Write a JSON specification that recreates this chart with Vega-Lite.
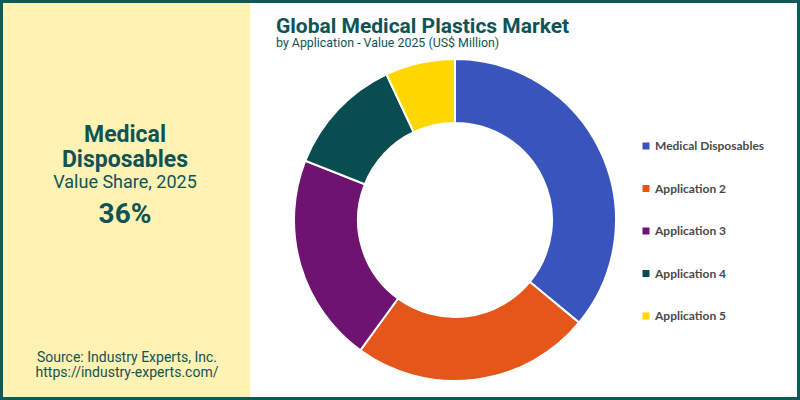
{
  "$schema": "https://vega.github.io/schema/vega-lite/v6.json",
  "background": "#0E5A5A",
  "padding": 3,
  "spacing": 0,
  "config": {"view": {"stroke": null}, "font": "Roboto", "concat": {"spacing": 0}},
  "hconcat": [
    {
      "width": 247,
      "height": 394,
      "view": {"fill": "#FFF2B3", "stroke": null},
      "data": {"values": [{}]},
      "layer": [
        {"mark": {"type": "text", "text": "Medical", "x": 122, "y": 139, "align": "center", "baseline": "alphabetic", "fontSize": 23, "fontWeight": "bold", "color": "#0E5457"}},
        {"mark": {"type": "text", "text": "Disposables", "x": 122, "y": 164, "align": "center", "baseline": "alphabetic", "fontSize": 23, "fontWeight": "bold", "color": "#0E5457"}},
        {"mark": {"type": "text", "text": "Value Share, 2025", "x": 122, "y": 185, "align": "center", "baseline": "alphabetic", "fontSize": 18, "color": "#0E5457"}},
        {"mark": {"type": "text", "text": "36%", "x": 122, "y": 220, "align": "center", "baseline": "alphabetic", "fontSize": 28, "fontWeight": "bold", "color": "#0E5457"}},
        {"mark": {"type": "text", "text": "Source: Industry Experts, Inc.", "x": 124, "y": 359, "align": "center", "baseline": "alphabetic", "fontSize": 14, "color": "#0E5457"}},
        {"mark": {"type": "text", "text": "https://industry-experts.com/", "x": 124, "y": 374, "align": "center", "baseline": "alphabetic", "fontSize": 14, "color": "#0E5457"}}
      ]
    },
    {
      "spacing": 0,
      "vconcat": [
        {
          "width": 547,
          "height": 52,
          "view": {"fill": "#FFFFFF", "stroke": null},
          "data": {"values": [{}]},
          "layer": [
            {"mark": {"type": "text", "text": "Global Medical Plastics Market", "x": 26, "y": 30, "align": "left", "baseline": "alphabetic", "fontSize": 21, "fontWeight": "bold", "color": "#0E5457"}},
            {"mark": {"type": "text", "text": "by Application - Value 2025 (US$ Million)", "x": 26, "y": 44, "align": "left", "baseline": "alphabetic", "fontSize": 12.4, "color": "#0E5457"}}
          ]
        },
        {
          "width": 547,
          "height": 342,
          "view": {"fill": "#FFFFFF", "stroke": null},
          "data": {"values": [
            {"app": "Medical Disposables", "share": 36, "rank": 1},
            {"app": "Application 2", "share": 24, "rank": 2},
            {"app": "Application 3", "share": 21, "rank": 3},
            {"app": "Application 4", "share": 12, "rank": 4},
            {"app": "Application 5", "share": 7, "rank": 5}
          ]},
          "mark": {"type": "arc", "innerRadius": 97, "outerRadius": 161, "stroke": "#FFFFFF", "strokeWidth": 2, "x": 205, "y": 165},
          "encoding": {
            "theta": {"field": "share", "type": "quantitative", "stack": true},
            "order": {"field": "rank", "type": "quantitative"},
            "color": {
              "field": "app",
              "type": "nominal",
              "scale": {
                "domain": ["Medical Disposables", "Application 2", "Application 3", "Application 4", "Application 5"],
                "range": ["#3A54BE", "#E5561A", "#6E1470", "#0A4D51", "#FFD700"]
              },
              "legend": {
                "title": null,
                "orient": "none",
                "legendX": 637,
                "legendY": 137,
                "symbolType": "square",
                "symbolSize": 49,
                "symbolStrokeWidth": 0,
                "labelFont": "Lato",
                "labelFontWeight": "bold",
                "labelFontSize": 12,
                "labelColor": "#4A4A4A",
                "labelOffset": 3,
                "rowPadding": 30.5
              }
            }
          }
        }
      ]
    }
  ]
}
